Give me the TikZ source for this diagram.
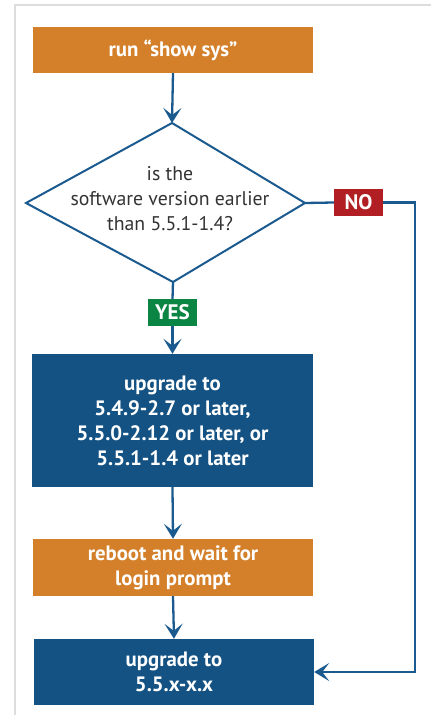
\documentclass[tikz,border=0pt]{standalone}
\usepackage{fontspec}
\setmainfont{PT Sans}
\usetikzlibrary{arrows.meta}
\definecolor{borange}{HTML}{D4802A}
\definecolor{bblue}{HTML}{135283}
\definecolor{lblue}{HTML}{1B5A8E}
\definecolor{nored}{HTML}{B11F24}
\definecolor{yesgreen}{HTML}{0A8544}
\definecolor{frame}{HTML}{DDDDDD}
\definecolor{dtext}{HTML}{333333}
\tikzset{
  boxbase/.style={rectangle, inner sep=0pt, minimum width=280pt, text=white,
    font=\fontsize{20.8}{25}\selectfont\bfseries, align=center},
  orangebox/.style={boxbase, fill=borange},
  bluebox/.style={boxbase, fill=bblue},
  lab/.style={rectangle, inner sep=0pt, minimum width=49pt, minimum height=27pt,
    text=white, font=\fontsize{21}{22}\selectfont\bfseries},
  conn/.style={draw=lblue, line width=2.3pt},
  arr/.style={conn, -{Stealth[length=15pt,width=18pt,inset=7pt]}},
}
\begin{document}
\begin{tikzpicture}[x=1pt,y=-1pt]
\useasboundingbox (0,0) rectangle (431,715);
\draw[frame, line width=1.5pt] (15,715) -- (15,5) -- (431,5);
\node[orangebox, minimum height=46pt] (b1) at (173,50) {run “show sys”};
\coordinate (dtop) at (172,123);
\coordinate (dright) at (305,203);
\coordinate (dbot) at (173,282);
\coordinate (dleft) at (26,203);
\draw[draw=lblue, line width=2pt, line join=miter] (dtop) -- (dright) -- (dbot) -- (dleft) -- cycle;
\node[align=center, text=dtext, font=\fontsize{19.8}{25}\selectfont] (dtxt) at (170,199)
  {is the\\software version earlier\\than 5.5.1-1.4?};
\node[bluebox, minimum width=281pt, minimum height=133pt] (b2) at (172.5,420.5)
  {upgrade to\\5.4.9-2.7 or later,\\5.5.0-2.12 or later, or\\5.5.1-1.4 or later};
\node[orangebox, minimum height=57pt] (b3) at (173,567.5)
  {reboot and wait for\\login prompt};
\node[bluebox, minimum height=66pt] (b4) at (174,672)
  {upgrade to\\5.5.x-x.x};
\node[lab, fill=nored] (no) at (358.5,202.5) {NO};
\node[lab, fill=yesgreen] (yes) at (172.5,312.5) {YES};
\coordinate (nc) at (415,672);
\draw[arr] (b1.south) -- (dtop);
\draw[conn] (dbot) -- (yes.north);
\draw[arr] (yes.south) -- (b2.north);
\draw[arr] (b2.south) -- (b3.north);
\draw[arr] (b3.south) -- (b4.north);
\draw[conn] (dright) -- (no.west);
\draw[arr] (no.east) -| (nc) -- (b4.east);
\end{tikzpicture}
\end{document}
